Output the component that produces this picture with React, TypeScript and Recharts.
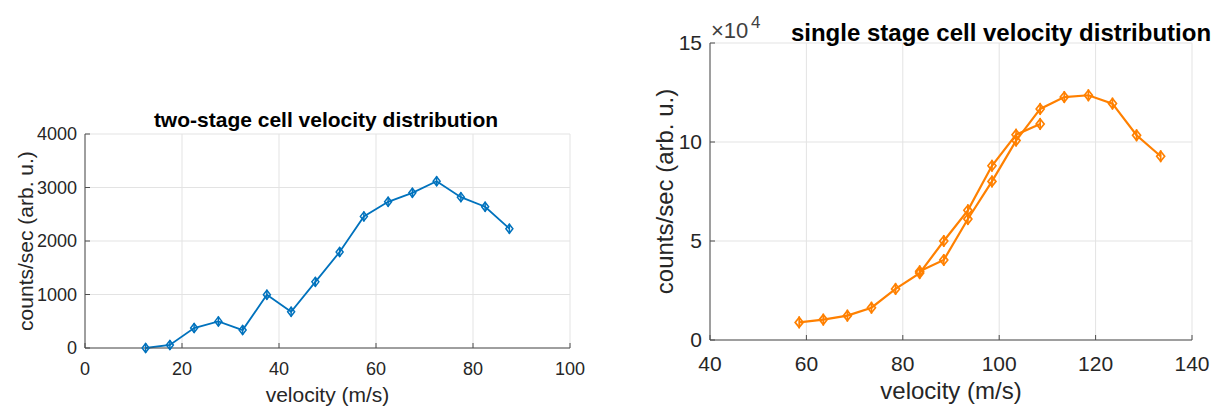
import React from 'react';
import { LineChart, Line, XAxis, YAxis, CartesianGrid, Label } from 'recharts';

// ---- left chart: two-stage cell ----
const twoStageVelocity = [12.5, 17.5, 22.5, 27.5, 32.5, 37.5, 42.5, 47.5, 52.5, 57.5, 62.5, 67.5, 72.5, 77.5, 82.5, 87.5];
const twoStageCounts = [0, 56, 373, 497, 335, 994, 677, 1236, 1795, 2460, 2733, 2901, 3118, 2820, 2640, 2230];
const twoStageXTicks = [0, 20, 40, 60, 80, 100];
const twoStageYTicks = [0, 1000, 2000, 3000, 4000];

// ---- right chart: single stage cell (two scans) ----
const singleVelocityA = [58.5, 63.5, 68.5, 73.5, 78.5, 83.5, 88.5, 93.5, 98.5, 103.5, 108.5];
const singleCountsA = [8900, 10300, 12300, 16300, 25800, 33800, 50000, 65500, 88000, 103700, 109100];
const singleVelocityB = [83.5, 88.5, 93.5, 98.5, 103.5, 108.5, 113.5, 118.5, 123.5, 128.5, 133.5];
const singleCountsB = [34700, 40400, 61100, 80100, 100700, 116700, 122700, 123600, 119400, 103400, 92800];
const singleXTicks = [40, 60, 80, 100, 120, 140];
const singleYTicks = [0, 50000, 100000, 150000];

const twoStageData = twoStageVelocity.map((v, i) => ({ v, c: twoStageCounts[i] }));
const singleDataA = singleVelocityA.map((v, i) => ({ v, c: singleCountsA[i] }));
const singleDataB = singleVelocityB.map((v, i) => ({ v, c: singleCountsB[i] }));

const FONT = '"Liberation Sans", Arial, Helvetica, sans-serif';
const TEXT = '#262626';
const AXIS = '#4d4d4d';
const GRID = '#e3e3e3';
const BLUE = '#0072BD';
const ORANGE = '#FF8000';

const makeDot = (color: string, w: number, h: number, bar: number, sw: number) => (props: any) => {
  const { cx, cy, index } = props;
  if (cx == null || cy == null) return <g key={`d-${index}`} />;
  return (
    <g key={`d-${index}`}>
      <path
        d={`M${cx},${cy - h} L${cx + w},${cy} L${cx},${cy + h} L${cx - w},${cy} Z`}
        fill="none"
        stroke={color}
        strokeWidth={sw}
      />
      <line x1={cx} x2={cx} y1={cy - bar} y2={cy + bar} stroke={color} strokeWidth={sw} />
    </g>
  );
};

const xLabel = (text: string, dy: number, size: number) => (props: any) => {
  const vb = props.viewBox || {};
  return (
    <text
      x={vb.x + vb.width / 2}
      y={vb.y + dy}
      textAnchor="middle"
      fill={TEXT}
      fontSize={size}
      fontFamily={FONT}
    >
      {text}
    </text>
  );
};

const yLabel = (text: string, bx: number, size: number) => (props: any) => {
  const vb = props.viewBox || {};
  const cy = vb.y + vb.height / 2;
  return (
    <text
      x={bx}
      y={cy}
      transform={`rotate(-90, ${bx}, ${cy})`}
      textAnchor="middle"
      fill={TEXT}
      fontSize={size}
      fontFamily={FONT}
    >
      {text}
    </text>
  );
};

export default function App() {
  return (
    <div style={{ position: 'absolute', left: 0, top: 0, width: 1218, height: 408, background: '#fff' }}>
      <div style={{ position: 'absolute', left: 0, top: 0 }}>
        <LineChart width={610} height={408} data={twoStageData} margin={{ top: 134, right: 40, bottom: 30, left: 0 }}>
          <CartesianGrid stroke={GRID} strokeWidth={1} />
          <XAxis
            type="number"
            dataKey="v"
            domain={[0, 100]}
            ticks={twoStageXTicks}
            height={30}
            stroke={AXIS}
            tickSize={-5}
            tickMargin={19}
            tickLine={{ stroke: AXIS }}
            tick={{ fill: TEXT, fontSize: 18, fontFamily: FONT }}
            interval={0}
          >
            <Label content={xLabel('velocity (m/s)', 53.5, 21)} />
          </XAxis>
          <YAxis
            type="number"
            domain={[0, 4000]}
            ticks={twoStageYTicks}
            width={85}
            stroke={AXIS}
            tickSize={-5}
            tickMargin={13}
            tickLine={{ stroke: AXIS }}
            tick={{ fill: TEXT, fontSize: 18, fontFamily: FONT }}
            interval={0}
          >
            <Label content={yLabel('counts/sec (arb. u.)', 33, 21)} />
          </YAxis>
          <Line
            type="linear"
            dataKey="c"
            stroke={BLUE}
            strokeWidth={1.8}
            dot={makeDot(BLUE, 3.5, 4.5, 5, 1.5)}
            isAnimationActive={false}
          />
        </LineChart>
      </div>
      <div style={{ position: 'absolute', left: 610, top: 0 }}>
        <LineChart width={608} height={408} margin={{ top: 43, right: 26, bottom: 38, left: 0 }}>
          <CartesianGrid stroke={GRID} strokeWidth={1} />
          <XAxis
            type="number"
            dataKey="v"
            domain={[40, 140]}
            ticks={singleXTicks}
            height={30}
            stroke={AXIS}
            tickSize={-5}
            tickMargin={21}
            tickLine={{ stroke: AXIS }}
            tick={{ fill: TEXT, fontSize: 21, fontFamily: FONT }}
            interval={0}
            allowDuplicatedCategory={false}
          >
            <Label content={xLabel('velocity (m/s)', 59, 24)} />
          </XAxis>
          <YAxis
            type="number"
            domain={[0, 150000]}
            ticks={singleYTicks}
            width={100}
            stroke={AXIS}
            tickSize={-5}
            tickMargin={13}
            tickLine={{ stroke: AXIS }}
            tick={{ fill: TEXT, fontSize: 21, fontFamily: FONT }}
            tickFormatter={(v: number) => String(v / 10000)}
            interval={0}
          >
            <Label content={yLabel('counts/sec (arb. u.)', 63, 24)} />
          </YAxis>
          <Line
            data={singleDataA}
            type="linear"
            dataKey="c"
            stroke={ORANGE}
            strokeWidth={2.2}
            dot={makeDot(ORANGE, 4, 5, 6, 1.7)}
            isAnimationActive={false}
          />
          <Line
            data={singleDataB}
            type="linear"
            dataKey="c"
            stroke={ORANGE}
            strokeWidth={2.2}
            dot={makeDot(ORANGE, 4, 5, 6, 1.7)}
            isAnimationActive={false}
          />
        </LineChart>
      </div>
      <svg
        width={1218}
        height={408}
        style={{ position: 'absolute', left: 0, top: 0, pointerEvents: 'none' }}
      >
        <text x={326} y={127} textAnchor="middle" fontWeight="bold" fontSize={21} fontFamily={FONT} fill="#000">
          two-stage cell velocity distribution
        </text>
        <text x={1001} y={41} textAnchor="middle" fontWeight="bold" fontSize={24} fontFamily={FONT} fill="#000">
          single stage cell velocity distribution
        </text>
        <text x={711} y={38} fontSize={22} fontFamily={FONT} fill="#404040">
          ×10
        </text>
        <text x={751} y={28} fontSize={17} fontFamily={FONT} fill="#404040">
          4
        </text>
      </svg>
    </div>
  );
}
